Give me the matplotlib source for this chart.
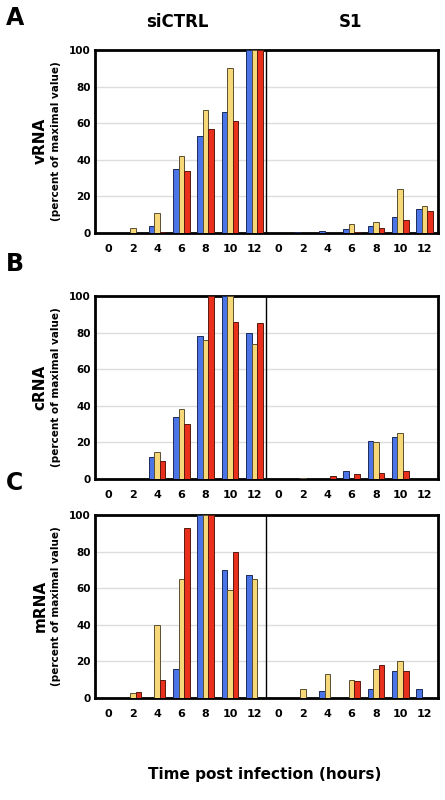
import matplotlib
matplotlib.use("Agg")
import matplotlib.pyplot as plt
import numpy as np

hours = ["0", "2", "4", "6", "8", "10", "12"]
conditions = ["siCTRL", "S1"]
# each series: siCTRL 7 values followed by S1 7 values
vrna_blue   = [0, 0, 4, 35, 53, 66, 100,   0, 0.5, 1, 2, 4, 9, 13]
vrna_yellow = [0, 3, 11, 42, 67, 90, 100,  0, 0, 0, 5, 6, 24, 15]
vrna_red    = [0, 0, 0.5, 34, 57, 61, 100, 0, 0, 0, 0.7, 3, 7, 12]
crna_blue   = [0, 0, 12, 34, 78, 100, 80,  0, 0, 0, 4.5, 21, 23, 0]
crna_yellow = [0, 0, 15, 38, 76, 100, 74,  0, 0.5, 0, 0, 20, 25, 0]
crna_red    = [0, 0, 10, 30, 100, 86, 85,  0, 0, 1.5, 2.5, 3.5, 4.5, 0]
mrna_blue   = [0, 0, 0, 16, 100, 70, 67,   0, 0, 4, 0, 5, 15, 5]
mrna_yellow = [0, 2.5, 40, 65, 100, 59, 65, 0, 5, 13, 10, 16, 20, 0]
mrna_red    = [0, 3.5, 10, 93, 100, 80, 0,  0, 0, 0, 9.5, 18, 15, 0]

panels = [("A", "vRNA", (vrna_blue, vrna_yellow, vrna_red)),
          ("B", "cRNA", (crna_blue, crna_yellow, crna_red)),
          ("C", "mRNA", (mrna_blue, mrna_yellow, mrna_red))]
colors = ["#4B74E6", "#F7D878", "#E8301C"]
edges = ["#1a2a5a", "#5a5030", "#5a1a10"]

fig = plt.figure(figsize=(4.45, 8), dpi=100)
W, H = 445, 800
tops = [50, 296, 515]
x = np.arange(14)
bw = 0.23
for (letter, name, series), top in zip(panels, tops):
    bottom = top + 183
    ax = fig.add_axes([95 / W, 1 - bottom / H, 343 / W, 183 / H])
    for i, (vals, c, e) in enumerate(zip(series, colors, edges)):
        lw = [0.7 if v > 0 else 0 for v in vals]
        ax.bar(x + (i - 1) * bw, vals, bw, color=c, edgecolor=e, linewidth=lw, zorder=3)
    ax.set_xlim(-0.55, 13.55)
    ax.set_ylim(0, 100)
    ax.axvline(6.5, color="black", lw=1, zorder=4)
    ax.set_yticks([0, 20, 40, 60, 80, 100])
    ax.yaxis.grid(True, color="#dddddd", lw=1, zorder=0)
    ax.set_xticks(x)
    ax.set_xticklabels(hours * 2, fontsize=8, fontweight="bold")
    ax.tick_params(axis="y", labelsize=7.5, length=0, pad=3)
    ax.tick_params(axis="x", length=0, pad=8)
    for t in ax.get_yticklabels():
        t.set_fontweight("bold")
    for s in ax.spines.values():
        s.set_linewidth(2)
    fig.text(40 / W, 1 - (top + 91) / H, name, rotation=90, ha="center", va="center",
             fontsize=11, fontweight="bold")
    fig.text(56 / W, 1 - (top + 91) / H, "(percent of maximal value)", rotation=90,
             ha="center", va="center", fontsize=7.5, fontweight="bold")
    fig.text(6 / W, 1 - (top - 32) / H, letter, fontsize=17, fontweight="bold", va="center")

fig.text(177 / W, 1 - 22 / H, conditions[0], fontsize=12, fontweight="bold", ha="center", va="center")
fig.text(350 / W, 1 - 22 / H, conditions[1], fontsize=12, fontweight="bold", ha="center", va="center")
fig.text(265 / W, 1 - 775 / H, "Time post infection (hours)", fontsize=11, fontweight="bold",
         ha="center", va="center")
fig.savefig("out.png", dpi=100)
